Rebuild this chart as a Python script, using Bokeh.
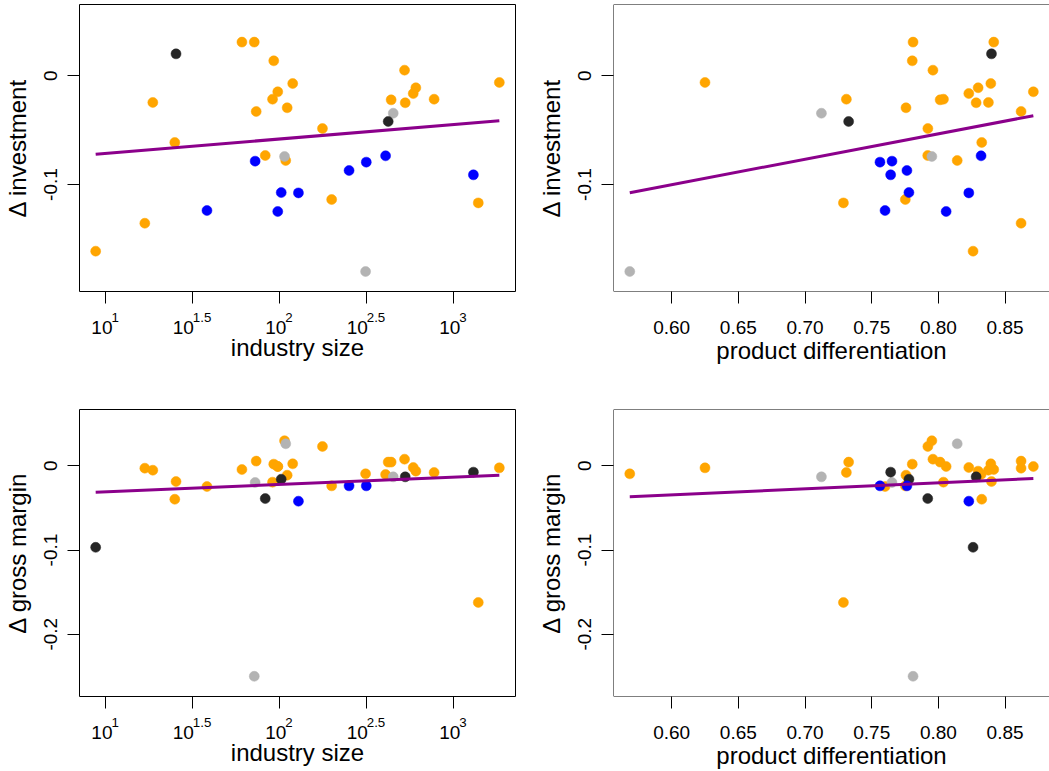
import numpy as np
from bokeh.plotting import figure
from bokeh.layouts import column, row
from bokeh.models import FixedTicker, Range1d, Span, LinearAxis
from bokeh.embed import file_html
from bokeh.resources import INLINE

# ---------------- data ----------------
industry_size = [8.77, 16.81, 18.69, 25.00, 60.81, 71.61, 73.45, 82.79, 92.68, 91.20,
                 97.72, 110.7, 108.6, 119.1, 176.6, 199.5, 438.5, 523.6, 528.4, 587.5,
                 608.1, 774.5, 1390.0, 1837.0, 25.41, 421.7, 106.9, 312.6, 450.8, 38.28,
                 72.44, 97.72, 102.3, 128.5, 251.2, 315.5, 407.4, 1303.0]
product_diff = [0.826, 0.862, 0.8375, 0.8325, 0.8415, 0.781, 0.862, 0.792, 0.7804, 0.8038,
                0.8712, 0.7757, 0.8141, 0.8393, 0.7921, 0.7752, 0.8013, 0.7959, 0.8283, 0.8228,
                0.8298, 0.731, 0.7288, 0.625, 0.8398, 0.7327, 0.7951, 0.5686, 0.7123, 0.760,
                0.7652, 0.8058, 0.7779, 0.8228, 0.7764, 0.7562, 0.8320, 0.7642]
d_investment = [-0.1613, -0.1356, -0.0245, -0.0613, 0.031, 0.031, -0.0328, -0.0733, 0.0138, -0.0215,
                -0.0147, -0.0294, -0.0779, -0.0071, -0.0485, -0.1138, -0.0221, 0.0052, -0.0248, -0.0163,
                -0.011, -0.0215, -0.1169, -0.0061, 0.0202, -0.042, -0.0742, -0.180, -0.0344, -0.1239,
                -0.0785, -0.1248, -0.1074, -0.1077, -0.0871, -0.0794, -0.0736, -0.0911]
group_investment = ["orange"] * 24 + ["black"] * 2 + ["gray"] * 3 + ["blue"] * 9
d_gross_margin = [-0.0968, -0.0028, -0.0052, -0.0397, -0.0044, -0.250, 0.0056, -0.0389, 0.002, -0.0194,
                  -0.0008, -0.0111, 0.0262, 0.0024, 0.023, -0.0238, 0.0044, 0.0079, -0.0131, -0.002,
                  -0.0063, -0.0079, -0.1623, -0.0024, -0.0187, 0.0044, 0.0298, -0.0095, -0.0131, -0.0246,
                  -0.0198, -0.0008, -0.0159, -0.042, -0.0238, -0.0238, -0.0103, -0.0075]
group_gross_margin = ["black", "orange", "orange", "orange", "orange", "gray", "orange", "black", "orange", "orange",
                      "orange", "orange", "gray", "orange", "orange", "orange", "orange", "orange", "black", "orange",
                      "orange", "orange", "orange", "orange", "orange", "orange", "orange", "orange", "gray", "orange",
                      "gray", "orange", "black", "blue", "blue", "blue", "orange", "black"]

# fitted regression lines (intercept, slope)
fit_inv_size = (-0.0846, 0.01323)   # on log10(industry size)
fit_inv_diff = (-0.2407, 0.2342)
fit_gm_size = (-0.0395, 0.0087)
fit_gm_diff = (-0.0776, 0.0717)

# axes
size_tick_exponents = [1, 1.5, 2, 2.5, 3]
size_tick_base = "10"
size_tick_exp_labels = ["1", "1.5", "2", "2.5", "3"]
diff_ticks = [0.60, 0.65, 0.70, 0.75, 0.80, 0.85]
diff_tick_labels = ["0.60", "0.65", "0.70", "0.75", "0.80", "0.85"]
inv_ticks = [-0.1, 0.0]
inv_tick_labels = ["-0.1", "0"]
gm_ticks = [-0.2, -0.1, 0.0]
gm_tick_labels = ["-0.2", "-0.1", "0"]

xlim_size_log = (0.850, 3.357)
xlim_diff = (0.5564, 0.8833)
ylim_inv = (-0.1984, 0.0656)
ylim_gm = (-0.2740, 0.0669)

palette = {"orange": "#FFA500", "gray": "#B3B3B3", "black": "#262626", "blue": "#0000FF"}
draw_order = ["orange", "gray", "black", "blue"]
LINE_COLOR = "#8B008B"
FONT = "Liberation Sans"
TICK_PX = 19
EXP_PX = 13.3
LAB_PX = 24
FRAME_W, FRAME_H = 436, 287


def style_axis(ax, font_px):
    ax.axis_line_color = None
    ax.minor_tick_line_color = None
    ax.major_tick_line_color = "black"
    ax.major_tick_line_width = 1
    ax.major_tick_in = 0
    ax.major_label_text_font = FONT
    ax.major_label_text_font_size = f"{font_px}px"
    ax.major_label_text_color = "black"
    ax.axis_label_text_font = FONT
    ax.axis_label_text_font_size = f"{LAB_PX}px"
    ax.axis_label_text_font_style = "normal"
    ax.axis_label_text_color = "black"


def panel(xv, yv, groups, xr, yr, fit, xlab, ylab, yticks, ylabels,
          left, right, top, bottom, log_x=False):
    p = figure(frame_width=FRAME_W, frame_height=FRAME_H,
               x_range=Range1d(*xr), y_range=Range1d(*yr),
               min_border_left=left, min_border_right=right,
               min_border_top=top, min_border_bottom=bottom,
               output_backend="svg", toolbar_location=None,
               background_fill_color="white", border_fill_color="white")
    p.xgrid.visible = False
    p.ygrid.visible = False
    if log_x:
        p.outline_line_color = "black"
        p.outline_line_width = 1
        p.outline_line_alpha = 1
    else:
        # right-hand panels are cut at the window edge: box open on the right
        p.outline_line_color = None
        for loc, dim in ((yr[1], "width"), (yr[0], "width"), (xr[0], "height")):
            p.add_layout(Span(location=loc, dimension=dim, line_color="black", line_width=1))

    xv = np.asarray(xv, dtype=float)
    yv = np.asarray(yv, dtype=float)
    g = np.asarray(groups)
    for c in draw_order:
        m = g == c
        if m.any():
            p.scatter(xv[m], yv[m], size=10, marker="circle",
                      fill_color=palette[c], line_color=palette[c], line_width=0.5)
    x0, x1 = xv.min(), xv.max()
    p.line([x0, x1], [fit[0] + fit[1] * x0, fit[0] + fit[1] * x1],
           line_color=LINE_COLOR, line_width=3)

    # y axis
    ya = p.yaxis[0]
    style_axis(ya, TICK_PX)
    ya.major_tick_out = 12
    ya.ticker = FixedTicker(ticks=list(yticks))
    ya.major_label_overrides = {t: l for t, l in zip(yticks, ylabels)}
    ya.major_label_orientation = "parallel"
    ya.major_label_standoff = 10
    ya.axis_label = ylab
    ya.axis_label_standoff = 11

    xa = p.xaxis[0]
    style_axis(xa, TICK_PX)
    if not log_x:
        xa.major_tick_out = 12
        xa.ticker = FixedTicker(ticks=list(diff_ticks))
        xa.major_label_overrides = {t: l for t, l in zip(diff_ticks, diff_tick_labels)}
        xa.major_label_standoff = 17
        xa.axis_label = xlab
        xa.axis_label_standoff = 0
    else:
        # tick marks only
        xa.major_tick_out = 12
        xa.ticker = FixedTicker(ticks=list(size_tick_exponents))
        xa.major_label_overrides = {t: "" for t in size_tick_exponents}
        xa.major_label_text_font_size = "0px"
        xa.major_label_standoff = 0
        # "10" bases and raised exponents, R plotmath style (whole label centred on tick)
        ppu = FRAME_W / (xr[1] - xr[0])
        w_base = len(size_tick_base) * 0.556 * TICK_PX
        base_pos, exp_pos = [], []
        for t, e in zip(size_tick_exponents, size_tick_exp_labels):
            w_exp = sum(0.278 if ch == "." else 0.556 for ch in e) * EXP_PX
            base_pos.append(round(t - (w_exp / 2) / ppu, 6))
            exp_pos.append(round(t + (w_base / 2 - 1) / ppu, 6))
        ax_base = LinearAxis()
        style_axis(ax_base, TICK_PX)
        ax_base.major_tick_out = 0
        ax_base.ticker = FixedTicker(ticks=base_pos)
        ax_base.major_label_overrides = {b: size_tick_base for b in base_pos}
        ax_base.major_label_standoff = 17
        p.add_layout(ax_base, "below")
        ax_exp = LinearAxis()
        style_axis(ax_exp, EXP_PX)
        ax_exp.major_tick_out = 0
        ax_exp.ticker = FixedTicker(ticks=exp_pos)
        ax_exp.major_label_overrides = {b: e for b, e in zip(exp_pos, size_tick_exp_labels)}
        ax_exp.major_label_standoff = -24
        ax_exp.axis_label = xlab
        ax_exp.axis_label_standoff = 9
        p.add_layout(ax_exp, "below")
    return p


log_size = np.log10(industry_size)

p1 = panel(log_size, d_investment, group_investment, xlim_size_log, ylim_inv, fit_inv_size,
           "industry size", "\u0394 investment", inv_ticks, inv_tick_labels,
           79, 9, 4, 95, log_x=True)
p2 = panel(product_diff, d_investment, group_investment, xlim_diff, ylim_inv, fit_inv_diff,
           "product differentiation", "\u0394 investment", inv_ticks, inv_tick_labels,
           89, 0, 4, 95)
p3 = panel(log_size, d_gross_margin, group_gross_margin, xlim_size_log, ylim_gm, fit_gm_size,
           "industry size", "\u0394 gross margin", gm_ticks, gm_tick_labels,
           79, 9, 23, 75, log_x=True)
p4 = panel(product_diff, d_gross_margin, group_gross_margin, xlim_diff, ylim_gm, fit_gm_diff,
           "product differentiation", "\u0394 gross margin", gm_ticks, gm_tick_labels,
           89, 0, 23, 75)

layout = column(row(p1, p2, spacing=0), row(p3, p4, spacing=0), spacing=0)
open("out.html", "w").write(file_html(layout, INLINE))
